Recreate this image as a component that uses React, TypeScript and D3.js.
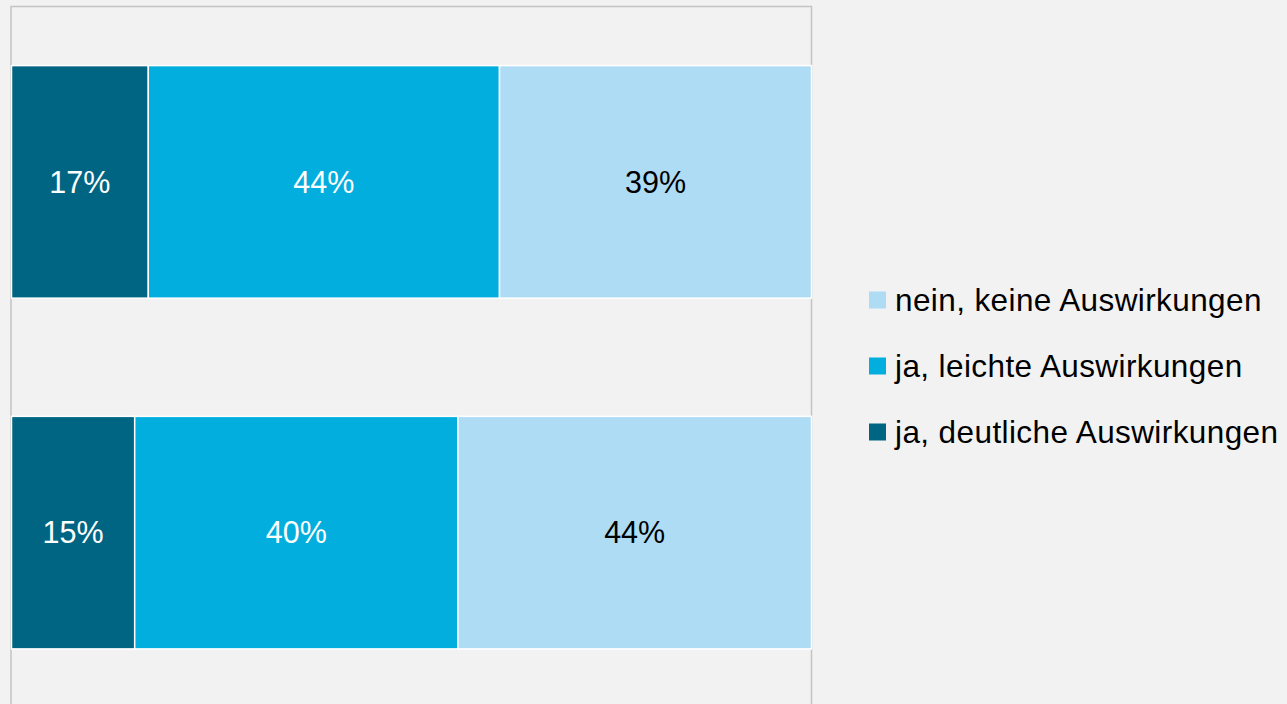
import React from "react";
import * as d3 from "d3";

const categories = ["Gruppe A", "Gruppe B"];
const seriesNames = ["ja, deutliche Auswirkungen", "ja, leichte Auswirkungen", "nein, keine Auswirkungen"];
const deutlich = [17.1, 15.4];
const leicht = [43.9, 40.4];
const keine = [39.0, 44.2];
const colors = ["#006583", "#02AEDE", "#AFDCF5"];
const labelColors = ["#ffffff", "#ffffff", "#000000"];
const legendOrder = [2, 1, 0];

export default function App() {
  const W = 1287, H = 704;
  const left = 11, right = 811.5, top = 6.5, bottom = 708;
  const x = d3.scaleLinear().domain([0, 100]).range([left + 0.5, right]);
  const y = d3.scaleBand().domain(categories).range([top, bottom]).paddingInner(0.337).paddingOuter(0.1685);
  const rows = categories.map((c, i) => ({ cat: c, vals: [deutlich[i], leicht[i], keine[i]] }));
  const font = "'Liberation Sans', Arial, sans-serif";
  return (
    <svg width={W} height={H} style={{ position: "absolute", left: 0, top: 0, display: "block" }}>
      <rect x={0} y={0} width={W} height={H} fill="#f2f2f2" />
      <path d={`M${left},${H} V${top} H${right} V${H}`} fill="none" stroke="#c4c4c4" strokeWidth={1.5} />
      {rows.map((r) => {
        let acc = 0;
        return r.vals.map((v, j) => {
          const x0 = x(acc);
          acc += v;
          const x1 = x(acc);
          const yy = y(r.cat)!;
          return (
            <g key={r.cat + j}>
              <rect x={x0} y={yy} width={x1 - x0} height={y.bandwidth()} fill={colors[j]} stroke="#ffffff" strokeWidth={1.5} />
              <text x={(x0 + x1) / 2} y={yy + y.bandwidth() / 2} dy="0.35em" textAnchor="middle" fontFamily={font} fontSize={30.5} fill={labelColors[j]}>
                {Math.round(v)}%
              </text>
            </g>
          );
        });
      })}
      {legendOrder.map((s, i) => (
        <g key={s} transform={`translate(869, ${300 + i * 66})`}>
          <rect x={0} y={-8.5} width={17} height={17} fill={colors[s]} />
          <text x={26} y={0} dy="0.35em" fontFamily={font} fontSize={31.5} letterSpacing={0.4} fill="#000">{seriesNames[s]}</text>
        </g>
      ))}
    </svg>
  );
}
